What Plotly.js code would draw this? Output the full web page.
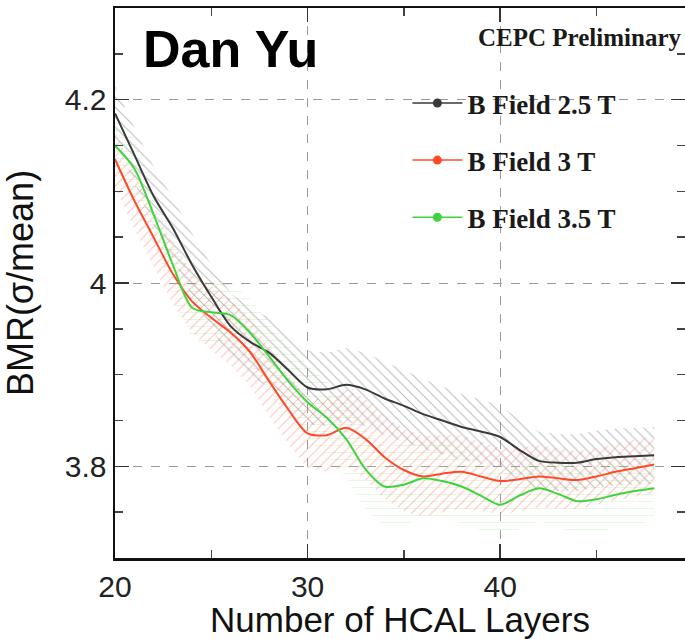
<!DOCTYPE html>
<html>
<head>
<meta charset="utf-8">
<script src="https://cdn.plot.ly/plotly-3.0.1.min.js"></script>
<style>html,body{margin:0;padding:0;background:#fff;}#chart{width:685px;height:639px;}</style>
</head>
<body>
<div id="chart"></div>
<script>
// Number of HCAL layers
var layers = [20,21,22,23,24,25,26,27,28,29,30,31,32,33,34,35,36,37,38,39,40,41,42,43,44,45,46,47,48];

// BMR values per B field
var bmr25 = [4.185,4.140,4.095,4.060,4.020,3.985,3.953,3.936,3.924,3.905,3.886,3.884,3.889,3.884,3.874,3.866,3.857,3.850,3.843,3.838,3.832,3.818,3.806,3.804,3.804,3.808,3.810,3.811,3.812];
var bmr30 = [4.135,4.090,4.050,4.010,3.980,3.962,3.946,3.925,3.893,3.862,3.836,3.834,3.842,3.830,3.810,3.796,3.789,3.792,3.794,3.789,3.784,3.786,3.789,3.787,3.785,3.789,3.794,3.798,3.802];
var bmr35 = [4.150,4.125,4.075,4.020,3.973,3.968,3.965,3.946,3.920,3.893,3.870,3.853,3.830,3.797,3.778,3.780,3.787,3.784,3.778,3.768,3.758,3.768,3.776,3.770,3.762,3.764,3.769,3.773,3.776];

// Uncertainty band half-widths
var err25 = [0.030,0.030,0.032,0.033,0.034,0.035,0.036,0.037,0.038,0.039,0.040,0.040,0.040,0.040,0.040,0.039,0.038,0.037,0.036,0.035,0.034,0.033,0.032,0.031,0.031,0.031,0.031,0.031,0.031];
var err30 = [0.030,0.031,0.032,0.033,0.034,0.035,0.036,0.037,0.038,0.038,0.038,0.040,0.042,0.044,0.045,0.045,0.044,0.042,0.040,0.038,0.036,0.035,0.034,0.033,0.032,0.031,0.031,0.031,0.031];
var err35 = [0.030,0.031,0.032,0.033,0.034,0.035,0.036,0.037,0.038,0.039,0.040,0.041,0.042,0.043,0.044,0.044,0.043,0.042,0.040,0.038,0.036,0.036,0.036,0.036,0.036,0.036,0.036,0.036,0.036];

var seriesNames = ["B Field 2.5 T", "B Field 3 T", "B Field 3.5 T"];
var xTickVals = [20, 30, 40];
var yTickVals = [3.8, 4.0, 4.2];
var yTickText = ["3.8", "4", "4.2"];

var series = [
  {y: bmr25, e: err25, line: "#3a3a3a", hatch: "rgba(120,120,120,0.5)", shape: "\\", name: seriesNames[0]},
  {y: bmr30, e: err30, line: "#ff4a2a", hatch: "rgba(255,120,100,0.45)", shape: "/", name: seriesNames[1]},
  {y: bmr35, e: err35, line: "#3fd43f", hatch: "rgba(130,220,120,0.22)", shape: "-", name: seriesNames[2]}
];

var traces = [];
series.forEach(function(s){
  var up = s.y.map(function(v,i){return v + s.e[i];});
  var lo = s.y.map(function(v,i){return v - s.e[i];});
  traces.push({
    x: layers.concat(layers.slice().reverse()),
    y: up.concat(lo.slice().reverse()),
    mode: "lines", fill: "toself",
    fillcolor: "rgba(255,255,255,0)",
    fillpattern: {shape: s.shape, fgcolor: s.hatch, bgcolor: "rgba(255,255,255,0)", size: 7, solidity: 0.15},
    line: {width: 0, color: "rgba(0,0,0,0)"},
    showlegend: false, hoverinfo: "skip"
  });
});
series.forEach(function(s){
  traces.push({
    x: layers, y: s.y, mode: "lines",
    line: {color: s.line, width: 2, shape: "spline", smoothing: 0.8},
    showlegend: false
  });
});
series.forEach(function(s, i){
  traces.push({
    x: [null], y: [null], mode: "lines+markers", name: s.name,
    legendgroup: "g" + i,
    line: {color: s.line, width: 1.5},
    marker: {color: s.line, size: 9, symbol: "circle"}
  });
});

var layout = {
  width: 685, height: 639,
  margin: {l: 115, r: 0, t: 8, b: 81},
  paper_bgcolor: "#fff", plot_bgcolor: "#fff",
  showlegend: true,
  legend: {
    x: 0.513, y: 0.871, xanchor: "left", yanchor: "top",
    bgcolor: "rgba(255,255,255,0)", borderwidth: 0,
    font: {family: "Liberation Serif", size: 27, color: "#1a1a1a", weight: "bold"},
    tracegroupgap: 19, itemwidth: 50
  },
  xaxis: {
    range: [20, 49.6], tickvals: xTickVals, ticktext: xTickVals.map(String),
    ticks: "inside", ticklen: 14, tickwidth: 1.5, tickcolor: "#333",
    mirror: "ticks", showline: true, linecolor: "#111", linewidth: 2.5,
    showgrid: true, gridcolor: "#9a9a9a", griddash: "dash", gridwidth: 1,
    zeroline: false,
    minor: {dtick: 5, tick0: 20, ticks: "inside", ticklen: 8, tickcolor: "#444", showgrid: false},
    tickfont: {family: "Liberation Sans", size: 30, color: "#222"},
    title: {text: "Number of HCAL Layers", font: {family: "Liberation Sans", size: 35, color: "#111"}, standoff: 0}
  },
  yaxis: {
    range: [3.7, 4.3], tickvals: yTickVals, ticktext: yTickText,
    ticks: "inside", ticklen: 14, tickwidth: 1.5, tickcolor: "#333",
    mirror: "ticks", showline: true, linecolor: "#111", linewidth: 2.5,
    showgrid: true, gridcolor: "#9a9a9a", griddash: "dash", gridwidth: 1,
    zeroline: false,
    minor: {dtick: 0.05, tick0: 3.7, ticks: "inside", ticklen: 8, tickcolor: "#444", showgrid: false},
    tickfont: {family: "Liberation Sans", size: 30, color: "#222"},
    title: {text: "BMR(σ/mean)", font: {family: "Liberation Sans", size: 36, color: "#111"}, standoff: 22}
  },
  annotations: [
    {xref: "paper", yref: "paper", x: 0.045, y: 0.926, xanchor: "left", yanchor: "middle", showarrow: false,
     text: "<b>Dan Yu</b>", font: {family: "Liberation Sans", size: 52, color: "#000"}},
    {xref: "paper", yref: "paper", x: 0.997, y: 0.947, xanchor: "right", yanchor: "middle", showarrow: false,
     text: "<b>CEPC Preliminary</b>", font: {family: "Liberation Serif", size: 25, color: "#1a1a1a"}}
  ]
};

Plotly.newPlot("chart", traces, layout, {staticPlot: true, displayModeBar: false});
</script>
</body>
</html>
